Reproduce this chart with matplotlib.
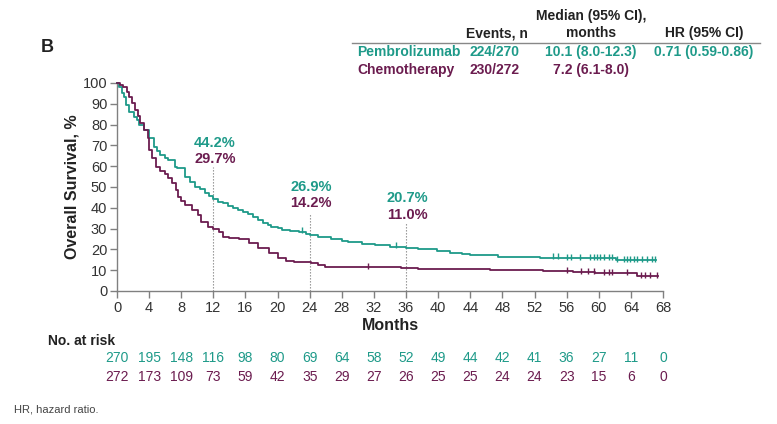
import numpy as np
import matplotlib
matplotlib.use("Agg")
import matplotlib.pyplot as plt

plt.rcParams['font.family'] = ['Liberation Sans', 'DejaVu Sans']

TEAL = '#1e9a89'
PURPLE = '#6b1c4f'

# Kaplan-Meier estimates (months, OS %)
pembro_t = [0, 0.3, 0.6, 0.9, 1.1, 1.5, 2.1, 2.5, 2.8, 3.4, 4.0, 4.6, 5.0, 5.4, 6.0, 6.3,
            7.2, 7.5, 8.45, 9.1, 9.7, 10.3, 10.9, 11.4, 12.0, 12.6, 13.2, 13.8, 14.4,
            15.1, 15.7, 16.3, 16.9, 17.6, 18.2, 18.8, 19.2, 20.0, 20.6, 21.6, 22.7,
            23.5, 24.0, 25.0, 26.7, 28.0, 28.8, 30.5, 32.1, 34.0, 36.0, 37.5, 39.9,
            41.5, 43.0, 44.0, 47.4, 50.0, 52.7, 56.0, 62.2, 67.1]
pembro_s = [100, 98, 95, 93.4, 89.4, 86.2, 83.8, 82, 79.8, 77.4, 73.4, 69.4, 67.5, 65.4, 63.8, 63,
            59.8, 59.2, 55, 52.6, 50.1, 49, 46.9, 45.5, 44.2, 43, 42.2, 41, 39.8,
            38.8, 38.1, 37, 35.7, 34, 32.5, 31.6, 30.9, 30.2, 29.5, 29, 28.5,
            27.6, 26.9, 26, 25, 24.2, 23.7, 22.8, 22, 21.3, 20.7, 20, 19.4,
            18.5, 17.8, 17.3, 16.5, 16.2, 16.0, 15.8, 14.9, 14.9]
chemo_t = [0, 0.4, 0.8, 1.2, 1.5, 1.9, 2.3, 2.6, 2.9, 3.4, 3.8, 4.0, 4.4, 4.8, 5.4, 6.0,
           6.3, 6.8, 7.3, 7.6, 8.0, 8.45, 9.3, 10.1, 10.5, 11.3, 12.0, 12.7, 13.2, 13.9,
           15.2, 16.4, 17.6, 18.9, 20.1, 21.0, 22.0, 24.2, 25.0,
           25.9, 29.6, 35.4, 37.5, 46.5, 53.1, 56.8, 59.5, 64.7, 67.4]
chemo_s = [100, 99, 98, 95.5, 93.5, 90.2, 87, 84, 80.6, 77.4, 73.4, 68, 63.8, 59.8, 57.5, 56.3,
           54.2, 51.8, 48.6, 45.3, 43.5, 41.3, 38.9, 36.5, 33.3, 30.9, 29.7, 28.5, 26.1, 25.5,
           25.0, 22.9, 20.5, 18.1, 15.7, 14.5, 14.1, 13.5, 12.5,
           11.7, 11.5, 10.9, 10.4, 10.1, 9.6, 9.1, 8.5, 7.2, 7.2]
pembro_cens = [23.1, 34.7, 54.25, 54.9, 56.1, 56.6, 57.7, 58.9, 59.4, 59.8, 60.2, 60.6,
               61.3, 61.7, 62.3, 63.1, 63.5, 63.9, 64.4, 64.8, 65.4, 66.0, 66.6, 67.0]
chemo_cens = [31.3, 56.1, 57.8, 58.6, 59.4, 60.6, 61.3, 61.7, 63.5, 65.2, 65.8, 66.4, 67.3]

landmark_months = [12, 24, 36]
landmark_pembro = ['44.2%', '26.9%', '20.7%']
landmark_chemo = ['29.7%', '14.2%', '11.0%']

x_ticks = list(range(0, 69, 4))
y_ticks = list(range(0, 101, 10))
risk_pembro = [270, 195, 148, 116, 98, 80, 69, 64, 58, 52, 49, 44, 42, 41, 36, 27, 11, 0]
risk_chemo = [272, 173, 109, 73, 59, 42, 35, 29, 27, 26, 25, 25, 24, 24, 23, 15, 6, 0]

groups = ['Pembrolizumab', 'Chemotherapy']
events = ['224/270', '230/272']
medians = ['10.1 (8.0-12.3)', '7.2 (6.1-8.0)']
hr_text = '0.71 (0.59-0.86)'

W, H = 777, 424
fig = plt.figure(figsize=(W / 100, H / 100), dpi=100)


def fp(x, y):
    return x / W, 1 - y / H


ax = fig.add_axes([117 / W, 1 - 291 / H, (663 - 117) / W, (291 - 83) / H])
ax.set_xlim(0, 68)
ax.set_ylim(0, 100)
for s in ['top', 'right']:
    ax.spines[s].set_visible(False)
for s in ['left', 'bottom']:
    ax.spines[s].set_color('#808080')
    ax.spines[s].set_linewidth(1.0)
ax.set_xticks(x_ticks)
ax.set_yticks(y_ticks)
ax.tick_params(axis='both', direction='out', length=5, width=1, color='#808080',
               labelsize=10.5, labelcolor='#333333', pad=2)


def step_val(ts, ss, t):
    idx = np.searchsorted(ts, t, side='right') - 1
    return ss[idx]


# landmark lines
tops = [59.5, 37.5, 32.5]
for m, top in zip(landmark_months, tops):
    ax.plot([m, m], [0, top], ls=(0, (1.2, 1.5)), color='#8a8a8a', lw=0.8, zorder=1)

ax.step(pembro_t, pembro_s, where='post', color=TEAL, lw=1.3, zorder=3, clip_on=False)
ax.step(chemo_t, chemo_s, where='post', color=PURPLE, lw=1.3, zorder=3, clip_on=False)
ax.plot(pembro_cens, [step_val(pembro_t, pembro_s, t) + 0.6 for t in pembro_cens],
        ls='none', marker='|', ms=5, mew=1.0, color=TEAL, zorder=4, clip_on=False)
ax.plot(chemo_cens, [step_val(chemo_t, chemo_s, t) + 0.6 for t in chemo_cens],
        ls='none', marker='|', ms=5, mew=1.0, color=PURPLE, zorder=4, clip_on=False)

label_y = [(71, 63.3), (50, 42.3), (44.7, 36.5)]
for m, p, c, (yp, yc) in zip(landmark_months, landmark_pembro, landmark_chemo, label_y):
    ax.text(m + 0.2, yp, p, color=TEAL, fontsize=10.5, fontweight='bold', ha='center', va='center')
    ax.text(m + 0.2, yc, c, color=PURPLE, fontsize=10.5, fontweight='bold', ha='center', va='center')

fig.text(*fp(72, 187), 'Overall Survival, %', rotation=90, fontsize=11.5, fontweight='bold',
         ha='center', va='center', color='#222222')
fig.text(*fp(390, 325), 'Months', fontsize=11.5, fontweight='bold', ha='center', va='center',
         color='#222222')
fig.text(*fp(47, 48), 'B', fontsize=13, fontweight='bold', ha='center', va='center', color='#222222')

# at-risk table
fig.text(*fp(48, 341), 'No. at risk', fontsize=10, fontweight='bold', ha='left', va='center',
         color='#222222')
for xt, a, b in zip(x_ticks, risk_pembro, risk_chemo):
    xpix = 117 + xt * (663 - 117) / 68
    fig.text(*fp(xpix, 358), str(a), fontsize=10, color=TEAL, ha='center', va='center')
    fig.text(*fp(xpix, 377), str(b), fontsize=10, color=PURPLE, ha='center', va='center')

# header table
hdr = dict(fontsize=10, fontweight='bold', ha='center', va='center', color='#222222')
fig.text(*fp(497, 33), 'Events, n', **hdr)
fig.text(*fp(591, 16), 'Median (95% CI),', **hdr)
fig.text(*fp(591, 33), 'months', **hdr)
fig.text(*fp(704, 33), 'HR (95% CI)', **hdr)
fig.add_artist(plt.Line2D([352 / W, 760 / W], [1 - 42.7 / H, 1 - 42.7 / H], color='#888888', lw=1))
for i, (g, e, md, col) in enumerate(zip(groups, events, medians, [TEAL, PURPLE])):
    yy = 52 + i * 18
    fig.text(*fp(357, yy), g, fontsize=10, fontweight='bold', ha='left', va='center', color=col)
    fig.text(*fp(494, yy), e, fontsize=10, fontweight='bold', ha='center', va='center', color=col)
    fig.text(*fp(591, yy), md, fontsize=10, fontweight='bold', ha='center', va='center', color=col)
fig.text(*fp(704, 52), hr_text, fontsize=10, fontweight='bold', ha='center', va='center', color=TEAL)

fig.text(*fp(14, 410), 'HR, hazard ratio.', fontsize=8, ha='left', va='center', color='#444444')

fig.savefig('out.png', dpi=100)
